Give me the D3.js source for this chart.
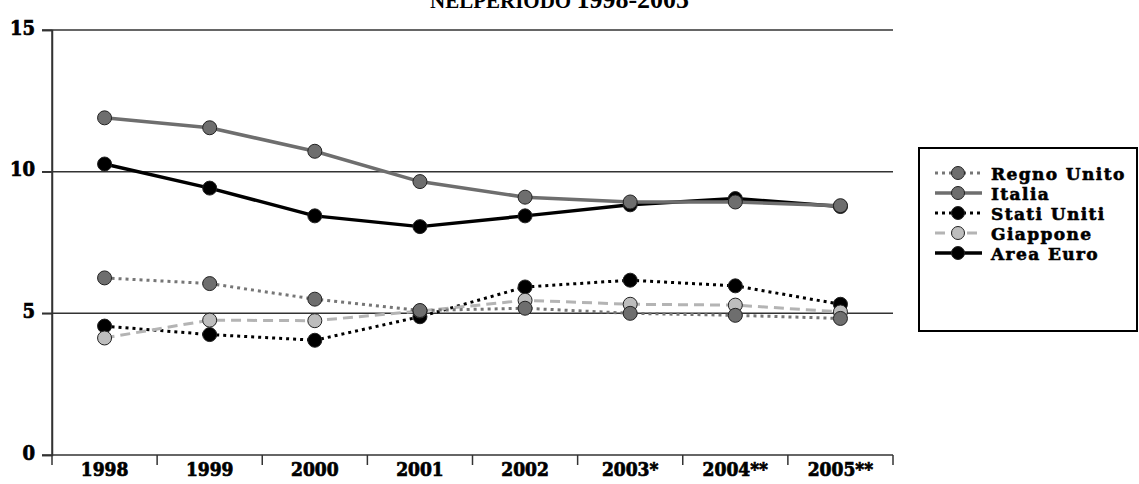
<!DOCTYPE html>
<html><head><meta charset="utf-8">
<script src="https://cdn.jsdelivr.net/npm/d3@7"></script>
<style>
body{margin:0;background:#fff;}
svg{display:block;}
.tk{font-family:"DejaVu Serif","Liberation Serif",serif;font-weight:bold;font-stretch:condensed;}
</style>
</head><body>
<svg id="c" width="1139" height="484"></svg>
<script>
const years = ["1998","1999","2000","2001","2002","2003*","2004**","2005**"];
const yTicks = [0,5,10,15];
const regnoUnito = [6.25,6.05,5.5,5.1,5.18,5.0,4.93,4.82];
const italia = [11.9,11.55,10.72,9.65,9.1,8.93,8.93,8.8];
const statiUniti = [4.55,4.25,4.05,4.88,5.93,6.17,5.97,5.32];
const giappone = [4.13,4.76,4.74,5.08,5.46,5.32,5.29,5.05];
const areaEuro = [10.27,9.42,8.44,8.06,8.44,8.83,9.05,8.77];
const seriesNames = ["Regno Unito","Italia","Stati Uniti","Giappone","Area Euro"];

const styles = {
  "Regno Unito":{stroke:"#767676",dash:"3,4",width:3,fill:"#6e6e6e"},
  "Italia":{stroke:"#6e6e6e",dash:null,width:3.5,fill:"#6e6e6e"},
  "Stati Uniti":{stroke:"#000",dash:"3,4",width:3,fill:"#000"},
  "Giappone":{stroke:"#b4b4b4",dash:"10,6",width:3,fill:"#bdbdbd"},
  "Area Euro":{stroke:"#000",dash:null,width:3.5,fill:"#000"}
};
const dataMap = {"Regno Unito":regnoUnito,"Italia":italia,"Stati Uniti":statiUniti,"Giappone":giappone,"Area Euro":areaEuro};
const drawOrder = ["Area Euro","Italia","Stati Uniti","Giappone","Regno Unito"];

const svg = d3.select("#c");
const L=52, R=893, T=30, B=455;
const x = d3.scaleBand().domain(years).range([L,R]);
const y = d3.scaleLinear().domain([0,15]).range([B,T]);

// title (clipped at top, as in the reference)
const title = svg.append("text").attr("x",430).attr("y",8)
  .attr("font-family","Liberation Serif, Times New Roman, serif").attr("font-weight","bold");
title.append("tspan").attr("font-size",21).text("NELPERIODO ");
title.append("tspan").attr("font-size",26).text("1998-2005");

// gridlines
svg.append("g").selectAll("line").data(yTicks.filter(d=>d>0)).join("line")
  .attr("x1",L-10).attr("x2",R).attr("y1",d=>y(d)).attr("y2",d=>y(d))
  .attr("stroke","#333").attr("stroke-width",1.5);

// y axis
const ya = svg.append("g").attr("transform",`translate(${L},0)`)
  .call(d3.axisLeft(y).tickValues(yTicks).tickSize(10).tickPadding(7));
ya.select(".domain").attr("stroke","#333").attr("stroke-width",1.5);
ya.selectAll(".tick line").attr("stroke","#333").attr("stroke-width",1.5);
ya.selectAll(".tick text").attr("class","tk").attr("font-size",20).attr("fill","#000")
  .attr("stroke","#000").attr("stroke-width",0.7).attr("dy","0.2em");

// x axis
const xa = svg.append("g").attr("transform",`translate(0,${B})`)
  .call(d3.axisBottom(x).tickSize(0).tickPadding(8));
xa.select(".domain").remove();
xa.selectAll(".tick text").attr("class","tk").attr("font-size",19).attr("fill","#000")
  .attr("stroke","#000").attr("stroke-width",0.7);
svg.append("line").attr("x1",L-10).attr("x2",R).attr("y1",B).attr("y2",B).attr("stroke","#333").attr("stroke-width",1.5);
const edges = years.map(d=>x(d)).concat([x(years[years.length-1])+x.bandwidth()]);
svg.append("g").selectAll("line").data(edges).join("line")
  .attr("x1",d=>d).attr("x2",d=>d).attr("y1",B).attr("y2",B+10)
  .attr("stroke","#333").attr("stroke-width",1.5);
svg.append("line").attr("x1",L).attr("x2",L).attr("y1",T).attr("y2",B).attr("stroke","#333").attr("stroke-width",1.5);

const line = d3.line().x((d,i)=>x(years[i])+x.bandwidth()/2).y(d=>y(d));
const gS = svg.append("g");
drawOrder.forEach(name=>{
  const s = styles[name], vals = dataMap[name];
  gS.append("path").datum(vals).attr("d",line).attr("fill","none")
    .attr("stroke",s.stroke).attr("stroke-width",s.width)
    .attr("stroke-dasharray",s.dash).attr("stroke-linejoin","round");
});
drawOrder.forEach(name=>{
  const s = styles[name], vals = dataMap[name];
  gS.append("g").selectAll("circle").data(vals).join("circle")
    .attr("cx",(d,i)=>x(years[i])+x.bandwidth()/2).attr("cy",d=>y(d)).attr("r",7)
    .attr("fill",s.fill).attr("stroke","#222").attr("stroke-width",1);
});

// legend
const lg = svg.append("g");
lg.append("rect").attr("x",919).attr("y",148).attr("width",218).attr("height",183)
  .attr("fill","#fff").attr("stroke","#000").attr("stroke-width",2);
seriesNames.forEach((name,i)=>{
  const s = styles[name], cy = 173+i*20;
  lg.append("line").attr("x1",935).attr("x2",982).attr("y1",cy).attr("y2",cy)
    .attr("stroke",s.stroke).attr("stroke-width",s.width).attr("stroke-dasharray",s.dash);
  lg.append("circle").attr("cx",958).attr("cy",cy).attr("r",6.5).attr("fill",s.fill).attr("stroke","#222").attr("stroke-width",1);
  lg.append("text").attr("class","tk").attr("x",991).attr("y",cy+6.5).attr("font-size",17)
    .attr("letter-spacing",1.4).attr("stroke","#000").attr("stroke-width",0.6)
    .style("font-stretch","normal").text(name);
});
</script>
</body></html>
